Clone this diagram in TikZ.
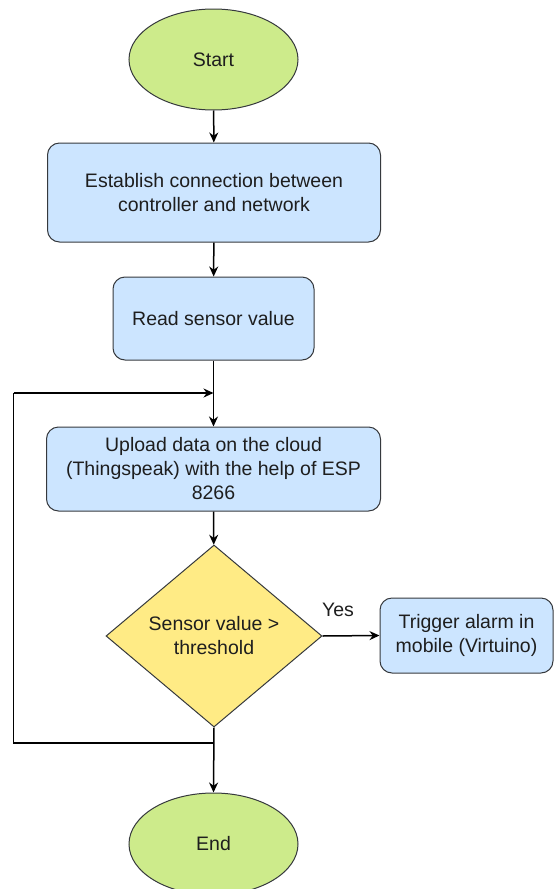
\documentclass[tikz,border=0pt]{standalone}
\usepackage{fontspec}
\setmainfont{Liberation Sans}
\usetikzlibrary{shapes.geometric,arrows.meta}
\definecolor{termfill}{HTML}{CDEB8B}
\definecolor{procfill}{HTML}{CCE5FF}
\definecolor{decfill}{HTML}{FFEB85}
\definecolor{edgecol}{HTML}{36393D}
\definecolor{txtcol}{HTML}{1E1E1E}
\begin{document}
\begin{tikzpicture}[x=1pt,y=-1pt,
  every node/.style={font=\fontsize{19.5}{24}\selectfont, text=txtcol},
  term/.style={ellipse, draw=edgecol, line width=1pt, fill=termfill, minimum width=169pt, minimum height=101pt, inner sep=0pt},
  proc/.style={rectangle, rounded corners=12pt, draw=edgecol, line width=1pt, fill=procfill, align=center, inner sep=0pt},
  dec/.style={diamond, draw=edgecol, line width=1pt, fill=decfill, minimum width=216pt, minimum height=182pt, inner sep=0pt},
  conn/.style={draw=black, line width=1.5pt, -{Stealth[length=10pt,width=9pt]}},
  plainline/.style={draw=black, line width=1.5pt}
]
\useasboundingbox (0,0) rectangle (555,889);
\node[term] (start) at (213.5,59.5) {Start};
\node[proc, minimum width=333pt, minimum height=99pt] (b1) at (214,192.5) {Establish connection between\\controller and network};
\node[proc, minimum width=201pt, minimum height=83pt] (b2) at (213.5,318.5) {Read sensor value};
\node[proc, minimum width=334pt, minimum height=84pt] (b3) at (213.5,469) {Upload data on the cloud\\(Thingspeak) with the help of ESP\\8266};
\node[dec, label={[align=center, font=\fontsize{19.5}{24}\selectfont, text=txtcol]center:Sensor value >\\threshold}] (d) at (214,636) {};
\node[proc, minimum width=173pt, minimum height=75pt] (trig) at (466.5,635.5) {Trigger alarm in\\mobile (Virtuino)};
\node[term, minimum height=102pt] (en) at (213.5,844) {End};
\node (yes) at (338,610) {Yes};
\coordinate (lp) at (214,743);
\coordinate (cl1) at (13.5,743);
\coordinate (cl2) at (13.5,393);
\coordinate (lt) at (213.5,393);
\draw[conn] (start) -- (b1);
\draw[conn] (b1) -- (b2);
\draw[conn] (b2) -- (b3);
\draw[conn] (b3) -- (d);
\draw[conn] (d.east) -- (trig.west);
\draw[conn] (d.south) -- (en.north);
\draw[plainline] (lp) -- (cl1) -- (cl2);
\draw[conn] (cl2) -- (lt);
\end{tikzpicture}
\end{document}
